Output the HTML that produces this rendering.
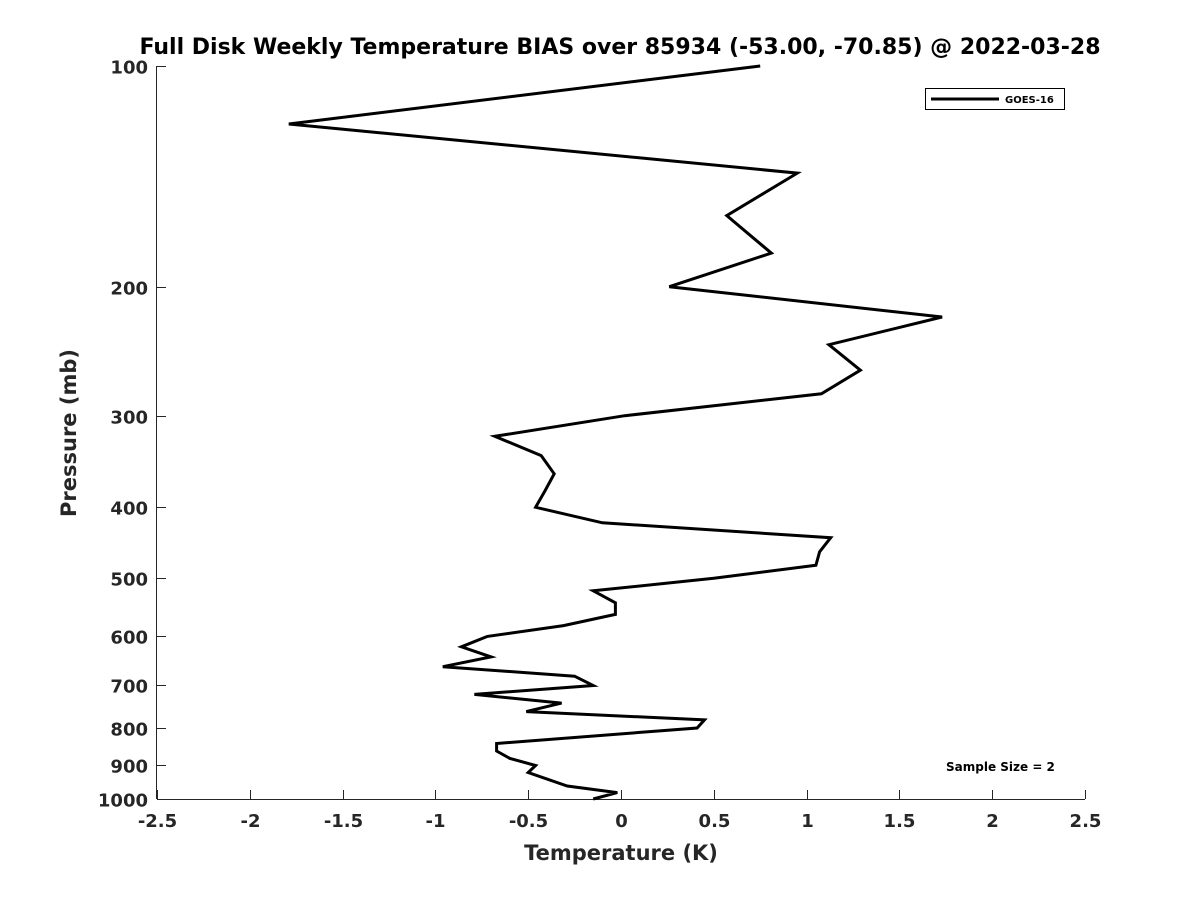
<!DOCTYPE html>
<html><head><meta charset="utf-8"><style>
body{margin:0;background:#fff;font-family:"Liberation Sans","DejaVu Sans",sans-serif;}
svg text{font-family:"DejaVu Sans","Liberation Sans",sans-serif;font-weight:bold;fill:#262626;}
</style></head><body>
<svg id="chart" width="1200" height="900" xmlns="http://www.w3.org/2000/svg">
<rect width="1200" height="900" fill="#fff"/>
<text x="620" y="54" text-anchor="middle" font-size="22" style="fill:#000">Full Disk Weekly Temperature BIAS over 85934 (-53.00, -70.85) @ 2022-03-28</text>
<g id="axes"></g>
<path id="series" fill="none" stroke="#000" stroke-width="3" stroke-linejoin="miter"/>
<g>
<rect x="925.5" y="88.5" width="139" height="21" fill="#fff" stroke="#000" stroke-width="1"/>
<line x1="931" y1="99" x2="999" y2="99" stroke="#000" stroke-width="3"/>
<text x="1005" y="103" font-size="10" style="fill:#000">GOES-16</text>
</g>
<text x="946" y="771" font-size="12" style="fill:#000">Sample Size = 2</text>
<text x="621" y="860" text-anchor="middle" font-size="21">Temperature (K)</text>
<text transform="translate(76,433) rotate(-90)" text-anchor="middle" font-size="21">Pressure (mb)</text>
</svg>
<script>
const pressures=[100,120,140,160,180,200,220,240,260,280,300,320,340,360,380,400,420,440,460,480,500,520,540,560,580,600,620,640,660,680,700,720,740,760,780,800,840,860,880,900,920,960,980,1000];
const temps=[0.75,-1.79,0.95,0.57,0.81,0.26,1.73,1.12,1.29,1.08,0.02,-0.68,-0.43,-0.36,-0.41,-0.46,-0.10,1.13,1.07,1.05,0.5,-0.15,-0.03,-0.03,-0.31,-0.72,-0.86,-0.70,-0.96,-0.25,-0.15,-0.79,-0.32,-0.51,0.45,0.41,-0.67,-0.67,-0.60,-0.46,-0.50,-0.29,-0.02,-0.15];
const xTicks=[-2.5,-2,-1.5,-1,-0.5,0,0.5,1,1.5,2,2.5];
const yTicks=[100,200,300,400,500,600,700,800,900,1000];
const X0=157,X1=1085,Y0=66,Y1=799;
const xs=v=>X0+(v+2.5)/5*(X1-X0);
const ys=p=>Y0+(Math.log10(p)-2)*(Y1-Y0);
const NS="http://www.w3.org/2000/svg";
const ax=document.getElementById('axes');
function mk(t,a,p){const e=document.createElementNS(NS,t);for(const k in a)e.setAttribute(k,a[k]);(p||ax).appendChild(e);return e;}
const xl=mk('line',{x1:X0,y1:Y1+0.5,x2:X1,y2:Y1+0.5,stroke:'#262626','stroke-width':1});


const yl=mk('line',{x1:X0-0.5,y1:Y0,x2:X0-0.5,y2:Y1,stroke:'#262626','stroke-width':1});


xTicks.forEach(v=>{const x=Math.round(xs(v))+0.5;
mk('line',{x1:x,y1:Y1,x2:x,y2:Y1-9,stroke:'#262626'});
const t=mk('text',{x:x,y:Y1+28,'text-anchor':'middle','font-size':18});t.textContent=String(v);

});
yTicks.forEach(p=>{const y=Math.round(ys(p))+0.5;
mk('line',{x1:X0,y1:y,x2:X0+9,y2:y,stroke:'#262626'});
const t=mk('text',{x:X0-9,y:y+7,'text-anchor':'end','font-size':18});t.textContent=String(p);

});
document.getElementById('series').setAttribute('d',pressures.map((p,i)=>(i?'L':'M')+xs(temps[i]).toFixed(1)+' '+ys(p).toFixed(1)).join(' '));
</script>
</body></html>
